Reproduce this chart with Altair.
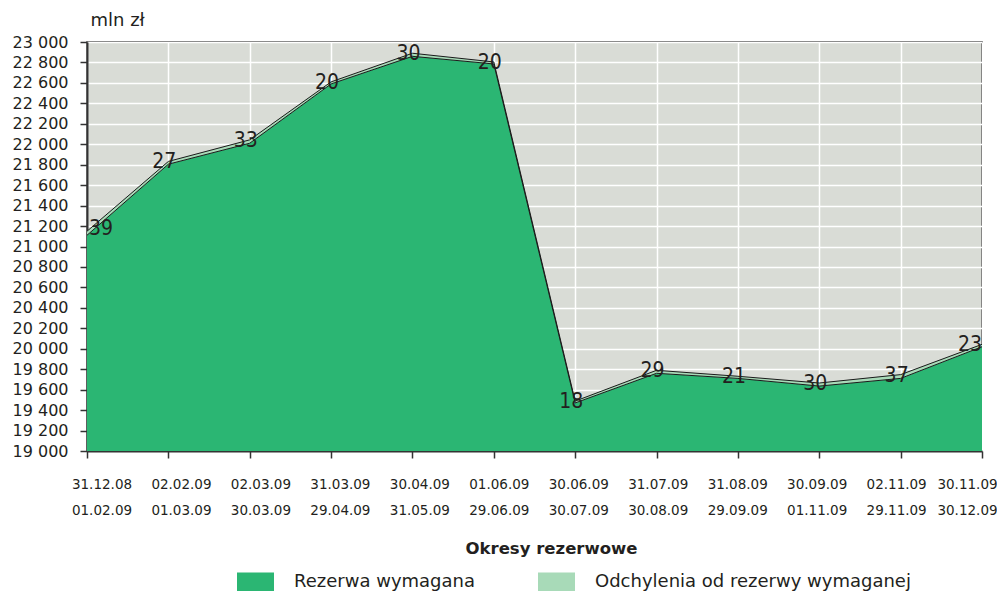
import altair as alt
import pandas as pd

starts = ["31.12.08", "02.02.09", "02.03.09", "31.03.09", "30.04.09", "01.06.09",
          "30.06.09", "31.07.09", "31.08.09", "30.09.09", "02.11.09", "30.11.09"]
ends = ["01.02.09", "01.03.09", "30.03.09", "29.04.09", "31.05.09", "29.06.09",
        "30.07.09", "30.08.09", "29.09.09", "01.11.09", "29.11.09", "30.12.09"]
required = [21110, 21805, 22010, 22590, 22860, 22785, 19470, 19760, 19710, 19635, 19710, 20020]
deviation = [39, 27, 33, 20, 30, 20, 18, 29, 21, 30, 37, 23]
series_names = ["Rezerwa wymagana", "Odchylenia od rezerwy wymaganej"]
y_min, y_max, y_step = 19000, 23000, 200

periods = [f"{s}|{e}" for s, e in zip(starts, ends)]
last = len(periods) - 1

area_rows = []
for p, r, d in zip(periods, required, deviation):
    area_rows.append({"period": p, "series": series_names[0], "lo": y_min, "hi": r})
    area_rows.append({"period": p, "series": series_names[1], "lo": r, "hi": r + d})
area_df = pd.DataFrame(area_rows)

pt_df = pd.DataFrame({
    "period": periods,
    "idx": list(range(len(periods))),
    "required": required,
    "total": [r + d for r, d in zip(required, deviation)],
    "dev": deviation,
})

FONT = "DejaVu Sans"
TXT = "#231f20"
GREEN = "#2bb673"
LIGHT = "#a8dab8"

# the original tick labels drift slightly relative to their ticks
label_shift = {
    "condition": [
        {"test": f"datum.value == '{p}'", "value": max(round(14.5 - 1.9 * i, 1), -15)}
        for i, p in enumerate(periods[:-1])
    ] + [{"test": f"datum.value == '{periods[-1]}'", "value": -15}],
    "value": 0,
}

x_axis = alt.Axis(
    title="Okresy rezerwowe",
    labelAngle=0,
    labelExpr="split(datum.value, '|')",
    labelFontSize=13.5,
    labelLineHeight=26,
    labelPadding=19,
    labelOffset=label_shift,
    labelColor=TXT,
    labelFont=FONT,
    labelOverlap=False,
    tickSize=7,
    tickColor="#333333",
    tickWidth=1.5,
    domainColor="#333333",
    domainWidth=2,
    grid=True,
    gridColor="#ffffff",
    gridWidth=1.5,
    titleFont=FONT,
    titleFontSize=16.5,
    titleFontWeight="bold",
    titleColor=TXT,
    titlePadding=24,
    titleX=464,
    titleAlign="center",
)
x_scale = alt.Scale(type="point", padding=0)

y_scale = alt.Scale(domain=[y_min, y_max], zero=False, nice=False)
y_axis = alt.Axis(
    title="mln zł",
    titleAngle=0,
    titleX=3,
    titleY=-22,
    titleAlign="left",
    titleBaseline="middle",
    titleFont=FONT,
    titleFontSize=18,
    titleFontWeight="normal",
    titleColor=TXT,
    values=list(range(y_min, y_max + 1, y_step)),
    labelExpr="replace(format(datum.value, ',d'), ',', ' ')",
    labelFont=FONT,
    labelFontSize=16,
    labelColor=TXT,
    labelPadding=12,
    labelOverlap=False,
    tickSize=7,
    tickColor="#333333",
    tickWidth=1.5,
    domainColor="#333333",
    domainWidth=2,
    grid=True,
    gridColor="#ffffff",
    gridWidth=1.5,
)


def xe():
    return alt.X("period:O", sort=periods, scale=x_scale, axis=x_axis)


def ye(field):
    return alt.Y(f"{field}:Q", scale=y_scale, axis=y_axis)


areas = alt.Chart(area_df).mark_area(opacity=1, interpolate="linear").encode(
    x=xe(),
    y=ye("hi"),
    y2="lo:Q",
    color=alt.Color(
        "series:N",
        scale=alt.Scale(domain=series_names, range=[GREEN, LIGHT]),
        sort=series_names,
        legend=alt.Legend(
            title=None,
            orient="none",
            legendX=150,
            legendY=521,
            direction="horizontal",
            columns=2,
            symbolType="M-1,-0.5H1V0.5H-1Z",
            symbolSize=1369,
            symbolStrokeWidth=0,
            symbolOpacity=1,
            labelFont=FONT,
            labelFontSize=18,
            labelColor=TXT,
            labelOffset=20,
            labelLimit=600,
            columnPadding=62,
            padding=0,
        ),
    ),
    order=alt.Order("series:N"),
)

line_req = alt.Chart(pt_df).mark_line(color="#1a1a1a", strokeWidth=1).encode(
    x=xe(),
    y=ye("required"),
)
line_tot = alt.Chart(pt_df).mark_line(color="#1a1a1a", strokeWidth=1).encode(
    x=xe(),
    y=ye("total"),
)

text_style = dict(font="DejaVu Sans Condensed", fontSize=21, color=TXT, baseline="middle")

labels_first = alt.Chart(pt_df).transform_filter("datum.idx == 0").mark_text(
    align="left", dx=2, dy=-2, **text_style
).encode(x=xe(), y=ye("total"), text="dev:Q")

labels_mid = alt.Chart(pt_df).transform_filter(f"datum.idx > 0 && datum.idx < {last}").mark_text(
    align="center", dx=-4, dy=1, **text_style
).encode(x=xe(), y=ye("total"), text="dev:Q")

labels_last = alt.Chart(pt_df).transform_filter(f"datum.idx == {last}").mark_text(
    align="right", dx=0, dy=1, **text_style
).encode(x=xe(), y=ye("total"), text="dev:Q")

chart = alt.layer(areas, line_req, line_tot, labels_first, labels_mid, labels_last).properties(
    width=895,
    height=409,
    autosize=alt.AutoSizeParams(type="none"),
    padding={"left": 79, "top": 34, "right": 15, "bottom": 170},
    background="#ffffff",
).configure_view(
    fill="#d9dcd6",
    stroke="#333333",
    strokeWidth=1.5,
)

chart.save("out.html", embed_options={"renderer": "svg", "actions": False})
